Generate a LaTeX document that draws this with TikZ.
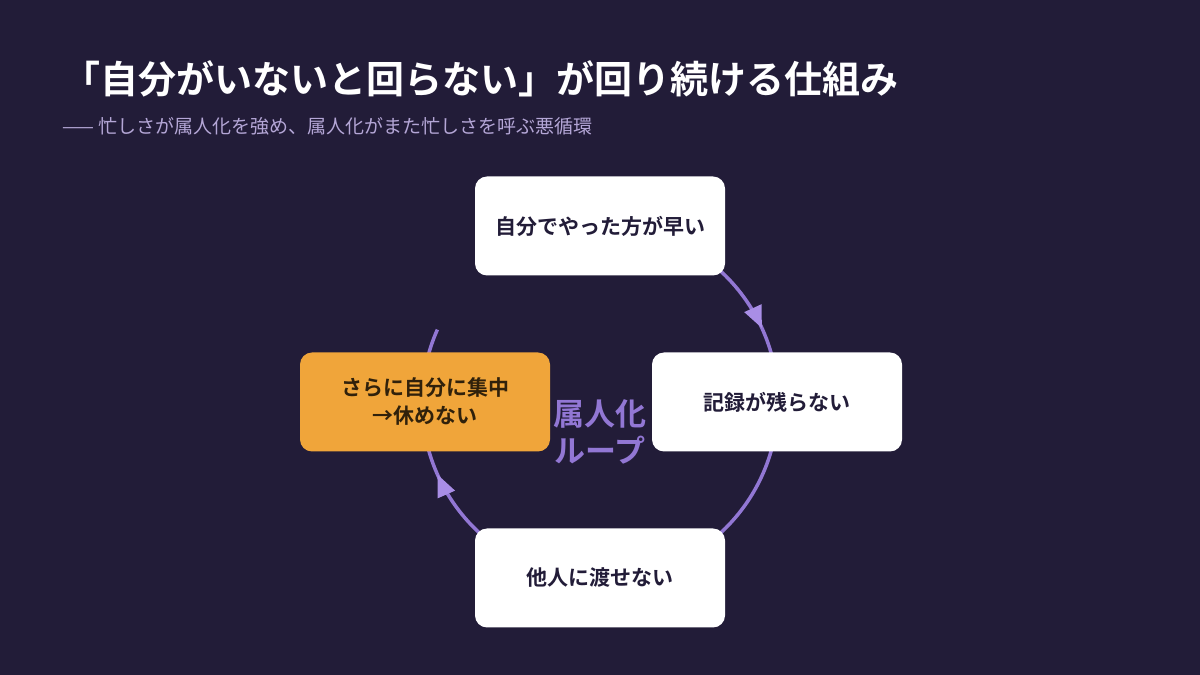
\documentclass[tikz,border=0pt]{standalone}
\usepackage{fontspec}
\setmainfont{Noto Sans CJK JP}
\newfontfamily\jpb{Noto Sans CJK JP Bold}
\usetikzlibrary{decorations.markings,arrows.meta}
\definecolor{bg}{HTML}{221C38}
\definecolor{loop}{HTML}{9277D4}
\definecolor{arrowc}{HTML}{A98EE6}
\definecolor{sub}{HTML}{B4A6D6}
\definecolor{org}{HTML}{F0A53A}
\begin{document}
\begin{tikzpicture}[x=1pt,y=1pt,
 box/.style={draw=none,fill=white,rounded corners=12pt,minimum width=250pt,minimum height=99pt,inner sep=0pt,align=center,font=\jpb\fontsize{21}{28}\selectfont,text=bg},
 seg/.style={draw=loop,line width=3.5pt},
 mk/.style={postaction={decorate,decoration={markings,mark=at position #1 with {\arrow{Triangle[length=22pt,width=18pt,color=arrowc]}}}}}]
\fill[bg] (0,0) rectangle (1200,675);
\useasboundingbox (0,0) rectangle (1200,675);
\coordinate (c) at (600,273);
\draw[seg,mk=0.51] ([shift={(50:178)}]c) arc[start angle=50,end angle=0,radius=178];
\draw[seg] ([shift={(0:178)}]c) arc[start angle=0,end angle=-50,radius=178];
\draw[seg,mk=0.52] ([shift={(-130:178)}]c) arc[start angle=-130,end angle=-180,radius=178];
\draw[seg] ([shift={(180:178)}]c) arc[start angle=180,end angle=156,radius=178];
\node[box] (top) at (600,449) {自分でやった方が早い};
\node[box] (right) at (777,273) {記録が残らない};
\node[box] (bottom) at (600,97) {他人に渡せない};
\node[box,fill=org,text=bg!80!org!60!black,text=black!80!org] (left) at (425,273) {さらに自分に集中\\→休めない};
\node[font=\jpb\fontsize{31}{37}\selectfont,text=loop,align=center] (lbl) at (600,243) {属人化\\ループ};
\node[anchor=west,text=white,font=\jpb\fontsize{38}{44}\selectfont,inner sep=0pt] (title) at (62,596) {「自分がいないと回らない」が回り続ける仕組み};
\node[anchor=west,text=sub,font=\fontsize{19}{22}\selectfont,inner sep=0pt] (subt) at (62,549) {—— 忙しさが属人化を強め、属人化がまた忙しさを呼ぶ悪循環};
\end{tikzpicture}
\end{document}
